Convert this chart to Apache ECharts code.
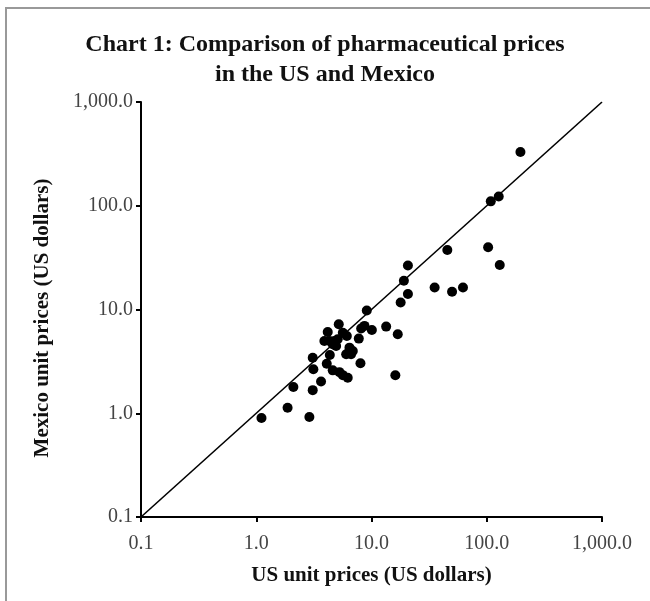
<!DOCTYPE html>
<html>
<head>
<meta charset="utf-8">
<script src="https://cdn.jsdelivr.net/npm/echarts@6/dist/echarts.min.js"></script>
<style>html,body{margin:0;padding:0;background:#fff}#c{width:650px;height:601px}</style>
</head>
<body>
<div id="c"></div>
<script>
const titleText = 'Chart 1: Comparison of pharmaceutical prices\nin the US and Mexico';
const xAxisName = 'US unit prices (US dollars)';
const yAxisName = 'Mexico unit prices (US dollars)';
const usPrices = [1.11,1.87,2.89,2.10,3.09,3.65,3.13,3.09,4.09,4.35,4.61,5.27,5.64,6.22,3.90,4.32,4.77,5.09,4.61,4.93,4.17,5.20,5.64,6.11,6.44,6.88,6.03,6.65,7.76,8.13,8.69,8.02,9.10,10.07,13.4,16.9,16.1,17.9,20.7,19.1,20.7,35.3,50.0,62.2,45.5,102.8,129.7,108.4,127,196];
const mexicoPrices = [0.90,1.13,0.92,1.79,1.67,2.02,2.65,3.43,3.00,3.64,2.59,2.49,2.33,2.20,4.98,4.98,4.98,5.16,4.62,4.45,6.08,7.21,5.98,5.56,4.29,3.98,3.70,3.70,5.24,6.55,6.95,3.03,9.77,6.35,6.84,5.77,2.32,11.7,14.1,18.9,26.5,16.3,14.8,16.3,37.5,39.8,26.9,110.2,123,330];
const parityLine = [[0.1,0.1],[1000,1000]];
const axisMin = 0.1, axisMax = 1000;

const fmt = v => Number(v).toLocaleString('en-US',{minimumFractionDigits:1, maximumFractionDigits:1});
const serif = 'Liberation Serif';
const chart = echarts.init(document.getElementById('c'), null, {renderer:'canvas'});
const axisCommon = {
  type:'log', logBase:10, min:axisMin, max:axisMax, splitNumber:4,
  axisLine:{show:true, lineStyle:{color:'#000', width:2}},
  axisTick:{show:true, length:5, lineStyle:{color:'#000', width:2}},
  splitLine:{show:false},
  minorTick:{show:false},
  axisLabel:{formatter:fmt, fontFamily:serif, fontSize:20, color:'#444'},
  nameLocation:'middle',
  nameTextStyle:{fontFamily:serif, fontSize:21, fontWeight:'bold', color:'#111'}
};
chart.setOption({
  animation:false,
  backgroundColor:'#fff',
  title:{text:titleText, left:'center', top:25, textStyle:{fontFamily:serif, fontSize:24, fontWeight:'bold', color:'#111', lineHeight:30}},
  graphic:[
    {type:'rect', shape:{x:6, y:8, width:700, height:700}, style:{fill:'none', stroke:'#999', lineWidth:2}, silent:true},
    {type:'text', x:43, y:318, rotation:Math.PI/2, style:{text:yAxisName, font:'bold 21px "Liberation Serif"', fill:'#111', textAlign:'center', textVerticalAlign:'middle'}, silent:true}
  ],
  grid:{left:141, right:48, top:102, bottom:84, containLabel:false},
  xAxis:Object.assign({}, axisCommon, {name:xAxisName, nameGap:48, axisLabel:Object.assign({}, axisCommon.axisLabel, {margin:17})}),
  yAxis:Object.assign({}, axisCommon, {axisLabel:Object.assign({}, axisCommon.axisLabel, {margin:8})}),
  series:[
    {type:'line', data:parityLine, symbol:'none', lineStyle:{color:'#000', width:1.6}, z:1},
    {type:'scatter', data:usPrices.map((x,i)=>[x, mexicoPrices[i]]), symbolSize:10, itemStyle:{color:'#000', opacity:1}, z:2}
  ]
});
</script>
</body>
</html>
